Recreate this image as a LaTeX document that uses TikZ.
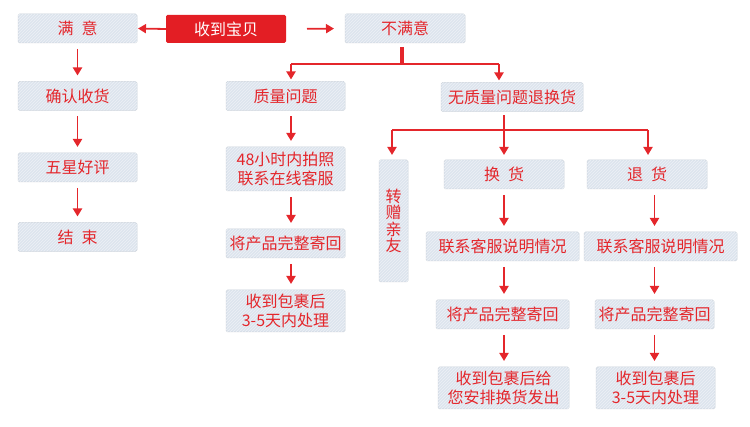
\documentclass[tikz,border=0pt]{standalone}
\usepackage{fontspec}
\setmainfont{Noto Sans CJK SC}
\usepackage{tikz}
\usetikzlibrary{arrows.meta,patterns}

\definecolor{txtred}{HTML}{E4262B}
\definecolor{btnred}{HTML}{E31E24}
\definecolor{boxfill}{HTML}{DDE5EE}
\definecolor{boxhatch}{HTML}{EDF1F6}
\definecolor{boxline}{HTML}{CCD3DB}
\newcommand{\gap}{\hspace{0.5em}}

\begin{document}
\begin{tikzpicture}[
  x=1pt, y=-1pt,
  box/.style={draw=boxline, line width=0.5pt, rounded corners=1.5pt, fill=boxfill,
    postaction={pattern=north east lines, pattern color=boxhatch},
    inner sep=0pt, outer sep=0pt, minimum width=#1, minimum height=29pt,
    text=txtred, font=\fontsize{16}{19}\selectfont, align=center},
  box/.default=120pt,
  btn/.style={fill=btnred, rounded corners=1.5pt, inner sep=0pt, outer sep=0pt,
    minimum width=120pt, minimum height=28pt, text=white, font=\fontsize{16}{19}\selectfont},
  arrow/.style={->, line width=1.8pt, txtred, shorten <=6pt, shorten >=6pt},
  bar/.style={line width=2.5pt, txtred},
  >={Triangle[width=9pt,length=8pt]}
]
\useasboundingbox (0,0) rectangle (750,427);

% Top row
\node[box=119pt] (manyi) at (77.5,28.5) {满\gap 意};
\node[btn] (shoudao) at (226,29) {收到宝贝};
\node[box] (bumanyi) at (405,28.5) {不满意};

% Satisfied column
\node[box=119pt] (queren) at (77.5,96) {确认收货};
\node[box=119pt] (wuxing) at (77.5,167.5) {五星好评};
\node[box=119pt] (jieshu) at (77.5,237) {结\gap 束};

% Quality problem column
\node[box=119pt] (zhiliang) at (285.5,96) {质量问题};
\node[box=119pt, minimum height=44pt] (paizhao) at (285.5,169) {48小时内拍照\\联系在线客服};
\node[box=119pt] (jihuiA) at (285.5,243.5) {将产品完整寄回};
\node[box=119pt, minimum height=42pt] (chuliA) at (285.5,311) {收到包裹后\\3-5天内处理};

% No quality problem
\node[box=142pt] (wuzhiliang) at (512,97) {无质量问题退换货};
\node[box=29pt, minimum height=122pt, font=\fontsize{16}{16.5}\selectfont] (zhuanzeng) at (393.5,221) {转\\赠\\亲\\友};
\node[box] (huanhuo) at (504,174.5) {换\gap 货};
\node[box] (tuihuo) at (647,174.5) {退\gap 货};
\node[box=153pt] (lianxiB) at (502.5,246.5) {联系客服说明情况};
\node[box=153pt] (lianxiC) at (660.5,246.5) {联系客服说明情况};
\node[box=133pt] (jihuiB) at (502.5,314.5) {将产品完整寄回};
\node[box=119pt] (jihuiC) at (654.5,314.5) {将产品完整寄回};
\node[box=131pt, minimum height=42pt] (fachuB) at (503.5,388) {收到包裹后给\\您安排换货发出};
\node[box=119pt, minimum height=42pt] (chuliC) at (655.5,388) {收到包裹后\\3-5天内处理};

% Arrows from the start box
\draw[arrow, shorten <=0pt, shorten >=1pt] (shoudao.west) -- (manyi.east);
\draw[arrow, shorten <=21pt, shorten >=11pt] (shoudao.east) -- (bumanyi.west);

% Satisfied chain
\draw[arrow] (manyi) -- (queren);
\draw[arrow] (queren) -- (wuxing);
\draw[arrow] (wuxing) -- (jieshu);

% First fork
\coordinate (forkA) at (402,64);
\coordinate (leftA) at (291,64);
\coordinate (rightA) at (499,64);
\draw[line width=4pt, txtred, shorten <=4pt] (bumanyi.south -| forkA) -- (forkA);
\draw[bar] (leftA) -- (rightA);
\draw[arrow, shorten <=0pt, shorten >=2pt] (leftA) -- (leftA |- zhiliang.north);
\draw[arrow, shorten <=0pt, shorten >=2pt] (rightA) -- (rightA |- wuzhiliang.north);

% Quality problem chain
\draw[arrow] (zhiliang.south -| leftA) -- (paizhao.north -| leftA);
\draw[arrow] (paizhao.south -| leftA) -- (jihuiA.north -| leftA);
\draw[arrow] (jihuiA.south -| leftA) -- (chuliA.north -| leftA);

% Second fork
\coordinate (forkB) at (504,130);
\coordinate (leftB) at (392,130);
\coordinate (rightB) at (648,130);
\draw[bar] (leftB) -- (rightB);
\draw[arrow, shorten <=4pt, shorten >=5pt] (wuzhiliang.south -| forkB) -- (huanhuo.north);
\draw[arrow, shorten <=0pt, shorten >=5pt] (leftB) -- (leftB |- zhuanzeng.north);
\draw[arrow, shorten <=0pt, shorten >=5pt] (rightB) -- (rightB |- tuihuo.north);

% Exchange chain
\draw[arrow] (huanhuo.south) -- (lianxiB.north -| huanhuo);
\draw[arrow] (lianxiB.south -| huanhuo) -- (jihuiB.north -| huanhuo);
\draw[arrow] (jihuiB.south -| huanhuo) -- (fachuB.north -| huanhuo);

% Return chain
\draw[arrow] (tuihuo.south -| jihuiC) -- (lianxiC.north -| jihuiC);
\draw[arrow] (lianxiC.south -| jihuiC) -- (jihuiC.north);
\draw[arrow] (jihuiC.south) -- (chuliC.north -| jihuiC);

\end{tikzpicture}
\end{document}
